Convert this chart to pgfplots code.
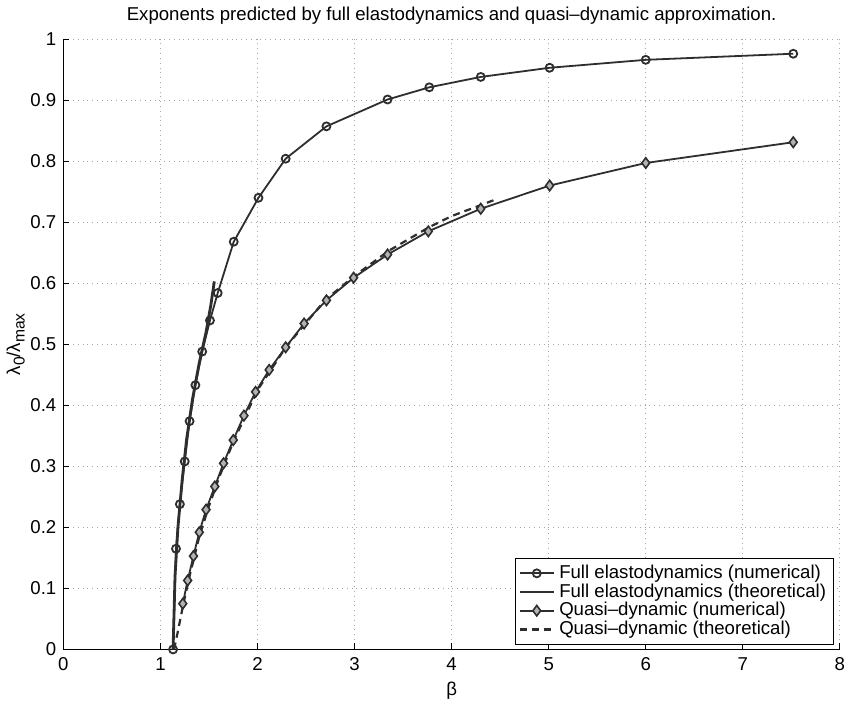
\documentclass[border=0pt]{standalone}
\usepackage{fontspec}
\setmainfont{Liberation Sans}
\usepackage{pgfplots}
\pgfplotsset{compat=1.18}
\definecolor{ink}{gray}{0.18}
\begin{document}
\begin{tikzpicture}[font=\fontsize{9.3}{11}\selectfont]
\begin{axis}[
  scale only axis, width=388pt, height=305pt,
  xmin=0, xmax=8, ymin=0, ymax=1,
  xtick={0,1,2,3,4,5,6,7,8},
  ytick={0,0.1,0.2,0.3,0.4,0.5,0.6,0.7,0.8,0.9,1},
  yticklabels={0,0.1,0.2,0.3,0.4,0.5,0.6,0.7,0.8,0.9,1},
  /pgf/number format/assume math mode=true,
  xticklabel style={inner xsep=0pt, yshift=-0.5pt},
  axis x line*=bottom, axis y line*=left,
  axis line style={black, line width=0.5pt},
  tick align=inside, major tick length=3pt,
  tick style={black, line width=0.5pt},
  grid=major,
  major grid style={dotted, gray!70, line width=0.5pt},
  title={Exponents predicted by full elastodynamics and quasi–dynamic approximation.},
  title style={yshift=-2pt},
  xlabel={β}, xlabel style={yshift=1pt},
  ylabel={λ\raisebox{-0.45ex}{\fontsize{7.8}{7.8}\selectfont 0}/λ\raisebox{-0.45ex}{\fontsize{7.8}{7.8}\selectfont max}},
  ylabel style={yshift=-4pt},
  legend style={at={(0.992,0.007)}, anchor=south east, draw=black, line width=0.5pt,
    font=\fontsize{9.3}{10.4}\selectfont, cells={anchor=west}, inner sep=1.5pt,
    row sep=-2.9pt},
  legend image code/.code={
    \draw[mark repeat=2,mark phase=2] plot coordinates {(0cm,0cm) (0.3cm,0cm) (0.6cm,0cm)};},
]
\addplot[ink, line width=0.9pt, mark=o, mark size=2pt, mark options={solid, line width=0.9pt}]
coordinates {(1.13,0) (1.16,0.165) (1.20,0.238) (1.25,0.308) (1.30,0.374) (1.36,0.433)
 (1.43,0.488) (1.51,0.539) (1.59,0.584) (1.755,0.668) (2.01,0.740) (2.29,0.804)
 (2.71,0.857) (3.34,0.901) (3.77,0.921) (4.30,0.938) (5.01,0.953) (6.0,0.966) (7.52,0.976)};
\addlegendentry{Full elastodynamics (numerical)}
\addplot[ink, line width=1.4pt]
coordinates {(1.13,0) (1.15,0.12) (1.18,0.2) (1.225,0.28) (1.27,0.345) (1.33,0.41)
 (1.40,0.47) (1.47,0.52) (1.52,0.565) (1.555,0.603)};
\addlegendentry{Full elastodynamics (theoretical)}
\addplot[ink, line width=0.9pt, mark=diamond*, mark size=2.6pt,
  mark options={solid, fill=gray!60, draw=ink, line width=0.8pt}]
coordinates {(1.23,0.075) (1.28,0.113) (1.34,0.153) (1.40,0.192) (1.47,0.229) (1.56,0.267)
 (1.65,0.305) (1.75,0.343) (1.86,0.383) (1.98,0.422) (2.12,0.458) (2.29,0.495)
 (2.48,0.534) (2.71,0.572) (2.99,0.609) (3.34,0.647) (3.76,0.685) (4.30,0.722)
 (5.01,0.760) (6.0,0.797) (7.52,0.831)};
\addlegendentry{Quasi–dynamic (numerical)}
\addplot[ink, line width=1.1pt, dash pattern=on 3.5pt off 2.5pt]
coordinates {(1.14,0) (1.18,0.03) (1.23,0.07) (1.30,0.12) (1.40,0.185) (1.50,0.235)
 (1.60,0.28) (1.75,0.34) (2.0,0.425) (2.3,0.497) (2.7,0.573) (3.0,0.612) (3.35,0.653)
 (3.77,0.692) (4.0,0.71) (4.3,0.728) (4.45,0.737)};
\addlegendentry{Quasi–dynamic (theoretical)}
\end{axis}
\end{tikzpicture}
\end{document}
